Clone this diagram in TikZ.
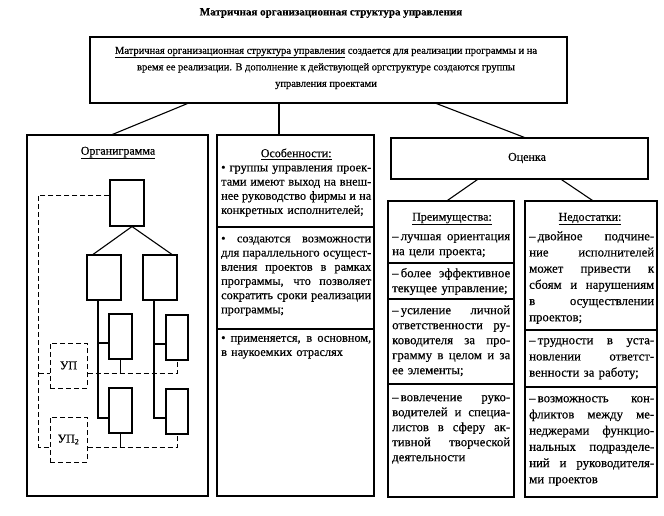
\documentclass[tikz,border=0pt]{standalone}
\usepackage{fontspec}
\setmainfont{Liberation Serif}[FakeBold=0.4]
\usetikzlibrary{calc}
\newcommand\jl[1]{\makebox[\linewidth][s]{\spaceskip=.25em plus 3em\xspaceskip=.3em plus 3em\relax #1}\\}
\newcommand\fs{\fontsize{12.3}{14.2}\selectfont}
\newcommand\fsT{\fontsize{12}{14.2}\selectfont}
\newcommand\fsP{\fontsize{12.8}{15}\selectfont}
\newcommand\fsN{\fontsize{12.8}{16.2}\selectfont}
\begin{document}
\begin{tikzpicture}[x=1pt,y=-1pt,
  box/.style={draw, line width=1.1pt, rectangle, inner sep=0pt},
  txt/.style={anchor=north west, inner sep=0pt, text width=#1, align=left, font=\fs},
  dsh/.style={dash pattern=on 5pt off 3pt, line width=1pt},
  ln/.style={line width=1.1pt},
  obox/.style={draw, line width=1.1pt, inner sep=0pt}
]
\useasboundingbox[fill=white] (0,0) rectangle (664,515);

% title
\node (title) at (331,13) {\fontsize{11}{14}\selectfont\bfseries Матричная организационная структура управления};

% main box
\node[box, minimum width=477pt, minimum height=66pt] (main) at (328.5,70) {};
\node[align=center, inner sep=0pt, font=\fontsize{10.5}{16.5}\selectfont] (maintext) at (326,68)
 {\underline{Матричная организационная структура управления} создается для реализации программы и на\\
  время ее реализации. В дополнение к действующей оргструктуре создаются группы\\
  управления проектами};

% left box: organigram
\node[box, minimum width=181pt, minimum height=361pt] (org) at (117.5,315.5) {};
\node[font=\fsT, inner sep=0pt] (orgt) at (118,153) {\underline{Органиграмма}};

\node[obox, minimum width=34pt, minimum height=46pt] (o0) at (127,203) {};
\node[obox, minimum width=34pt, minimum height=45pt] (o1) at (104,277.5) {};
\node[obox, minimum width=34pt, minimum height=45pt] (o2) at (160,277.5) {};
\node[obox, minimum width=23pt, minimum height=45pt] (o3) at (120.5,336.5) {};
\node[obox, minimum width=23pt, minimum height=45pt] (o4) at (120.5,410.5) {};
\node[obox, minimum width=22pt, minimum height=45pt] (o5) at (177,337.5) {};
\node[obox, minimum width=22pt, minimum height=45pt] (o6) at (177,411.5) {};
\node[obox, dsh, minimum width=37pt, minimum height=45pt, font=\fsT] (u1) at (68.5,365.5) {УП};
\node[obox, dsh, minimum width=37pt, minimum height=45pt, font=\fsT] (u2) at (68.5,439.5) {УП\textsubscript{2}};

\draw[ln] ($(o0.south)+(5,0)$) -- ($(o1.north)+(-11,0)$);
\draw[ln] ($(o0.south)+(5,0)$) -- ($(o2.north)+(12,0)$);
\coordinate (tr1) at ($(o1.south)+(-6,0)$);
\coordinate (tr2) at ($(o2.south)+(-6,0)$);
\draw[ln] (tr1) |- ($(o4.west)+(0,7.5)$);
\draw[ln] ($(o3.west)+(0,6.5)$) -- +(-11,0);
\draw[ln] (tr2) |- ($(o6.west)+(0,6.5)$);
\draw[ln] ($(o5.west)+(0,6.5)$) -- +(-12,0);

\draw[dsh] ($(o0.west)+(0,-8)$) -| ($(u2.west)+(-11,7.5)$) -- ($(u2.west)+(0,7.5)$);
\draw[dsh] ($(u1.west)+(-11,7.5)$) -- ($(u1.west)+(0,7.5)$);
\draw[dsh] ($(u1.east)+(0,7.5)$) -| (o5.south);
\draw[dsh] ($(u2.east)+(0,7.5)$) -| (o6.south);
\draw[ln] (o3.south) -- ++(0,14);
\draw[ln] (o4.south) -- ++(0,14);

% features box
\node[box, minimum width=157pt, minimum height=361pt] (osob) at (295.5,315.5) {};
\node[txt=150pt] (osobtxt) at (221,147) {%
\makebox[\linewidth]{\fsT\strut\underline{Особенности:}}\\
\jl{• группы управления проек-}%
\jl{тами имеют выход на внеш-}%
\jl{нее руководство фирмы и на}%
конкретных исполнителей;\\
\mbox{}\\
\jl{• создаются возможности}%
\jl{для параллельного осущест-}%
\jl{вления проектов в рамках}%
\jl{программы, что позволяет}%
\jl{сократить сроки реализации}%
программы;\\
\mbox{}\\
\jl{• применяется, в основном,}%
в наукоемких отраслях};
\draw[ln] (osob.west |- 0,227) -- (osob.east |- 0,227);
\draw[ln] (osob.west |- 0,329) -- (osob.east |- 0,329);

% evaluation
\node[box, minimum width=257pt, minimum height=41pt] (oc) at (519.5,158.5) {};
\node[font=\fsT, inner sep=0pt] (oct) at (527,158) {Оценка};
\node[box, minimum width=126pt, minimum height=296pt] (pre) at (451,349) {};
\node[box, minimum width=132pt, minimum height=296pt] (ned) at (591,349) {};

\node[font=\fsT, inner sep=0pt] (pret) at (452,219) {\underline{Преимущества:}};
\node[font=\fsT, inner sep=0pt] (nedt) at (590,219) {\underline{Недостатки:}};

\node[txt=118pt, font=\fsP] (p1) at (392,229.5) {\jl{\strut–\,лучшая ориентация}на цели проекта;};
\node[txt=118pt, font=\fsP] (p2) at (392,266.5) {\jl{\strut–\,более эффективное}текущее управление;};
\node[txt=118pt, font=\fsP] (p3) at (392,303.5) {\jl{\strut–\,усиление личной}\jl{ответственности ру-}\jl{ководителя за про-}\jl{грамму в целом и за}ее элементы;};
\node[txt=118pt, font=\fsP] (p4) at (392,390.5) {\jl{\strut–\,вовлечение руко-}\jl{водителей и специа-}\jl{листов в сферу ак-}\jl{тивной творческой}деятельности};

\node[txt=125pt, font=\fsN] (n1) at (529,228.7) {\jl{\strut–\,двойное подчине-}\jl{ние исполнителей}\jl{может привести к}\jl{сбоям и нарушениям}\jl{в осуществлении}проектов;};
\node[txt=125pt, font=\fsN] (n2) at (529,332.7) {\jl{\strut–\,трудности в уста-}\jl{новлении ответст-}венности за работу;};
\node[txt=125pt, font=\fsN] (n3) at (529,390.7) {\jl{\strut–\,возможность кон-}\jl{фликтов между ме-}\jl{неджерами функцио-}\jl{нальных подразделе-}\jl{ний и руководителя-}ми проектов};

\draw[ln] (pre.west |- 0,263) -- (pre.east |- 0,263);
\draw[ln] (pre.west |- 0,299) -- (pre.east |- 0,299);
\draw[ln] (pre.west |- 0,384) -- (pre.east |- 0,384);
\draw[ln] (ned.west |- 0,330) -- (ned.east |- 0,330);
\draw[ln] (ned.west |- 0,387) -- (ned.east |- 0,387);

% connectors
\coordinate (ot) at ($(osob.north)+(-16.5,0)$);
\draw[ln] ($(main.south west)+(98,0)$) -- ($(org.north west)+(86,0)$);
\draw[ln] (ot |- main.south) -- (ot);
\draw[ln] ($(main.south west)+(347,0)$) -- ($(oc.north west)+(134,0)$);
\draw[ln] ($(oc.south west)+(87,0)$) -- ($(pre.north west)+(60,0)$);
\draw[ln] ($(oc.south west)+(171,0)$) -- ($(ned.north west)+(68,0)$);
\end{tikzpicture}
\end{document}
